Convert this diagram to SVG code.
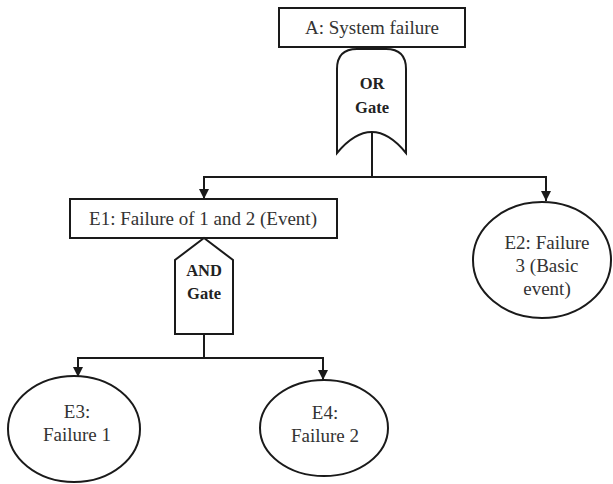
<svg xmlns="http://www.w3.org/2000/svg" width="613" height="484" viewBox="0 0 613 484">
  <style>
    .shape { fill: #ffffff; stroke: #1a1a1a; stroke-width: 2; }
    .wire { fill: none; stroke: #1a1a1a; stroke-width: 2; }
    .label { font-family: "Liberation Serif", "Times New Roman", serif; font-size: 19px; fill: #333333; text-anchor: middle; }
    .gate { font-family: "Liberation Serif", "Times New Roman", serif; font-size: 16.5px; font-weight: bold; fill: #222222; text-anchor: middle; }
  </style>
  <defs>
    <marker id="arrow" viewBox="0 0 10 10" refX="10" refY="5" markerWidth="5" markerHeight="5" orient="auto" markerUnits="strokeWidth">
      <path d="M0,0 L10,5 L0,10 Z" fill="#1a1a1a"/>
    </marker>
  </defs>
  <rect width="613" height="484" fill="#ffffff"/>

  <!-- connectors -->
  <g id="connectors">
    <path class="wire" d="M372,132 L372,177"/>
    <path class="wire" d="M204,177 L546,177"/>
    <path class="wire" d="M204,176 L204,199" marker-end="url(#arrow)"/>
    <path class="wire" d="M546,176 L546,201" marker-end="url(#arrow)"/>
    <path class="wire" d="M204,334 L204,358"/>
    <path class="wire" d="M78,358 L324,358"/>
    <path class="wire" d="M78,357 L78,377" marker-end="url(#arrow)"/>
    <path class="wire" d="M323,357 L323,380" marker-end="url(#arrow)"/>
  </g>

  <!-- top event -->
  <g id="node-a">
    <rect class="shape" x="279" y="8" width="186" height="39"/>
    <text class="label" x="372" y="34">A: System failure</text>
  </g>

  <!-- OR gate -->
  <g id="gate-or">
    <path class="shape" d="M337,153 L337,69 Q337,49 357,49 L386,49 Q406,49 406,69 L406,153 Q372,111 337,153 Z"/>
    <text class="gate" x="372" y="89">OR</text>
    <text class="gate" x="372" y="113">Gate</text>
  </g>

  <!-- intermediate event -->
  <g id="node-e1">
    <rect class="shape" x="70" y="199" width="267" height="39"/>
    <text class="label" x="203" y="225">E1: Failure of 1 and 2 (Event)</text>
  </g>

  <!-- AND gate -->
  <g id="gate-and">
    <path class="shape" d="M175,334 L175,260 L204,238 L233,260 L233,334 Z"/>
    <text class="gate" x="204" y="276">AND</text>
    <text class="gate" x="204" y="299">Gate</text>
  </g>

  <!-- basic event E2 -->
  <g id="node-e2">
    <ellipse class="shape" cx="542" cy="260" rx="69" ry="58"/>
    <text class="label" x="547" y="249">E2: Failure</text>
    <text class="label" x="547" y="272">3 (Basic</text>
    <text class="label" x="547" y="295">event)</text>
  </g>

  <!-- basic event E3 -->
  <g id="node-e3">
    <ellipse class="shape" cx="74" cy="429" rx="66" ry="53"/>
    <text class="label" x="77" y="418">E3:</text>
    <text class="label" x="77" y="441">Failure 1</text>
  </g>

  <!-- basic event E4 -->
  <g id="node-e4">
    <ellipse class="shape" cx="324" cy="428" rx="64" ry="48"/>
    <text class="label" x="325" y="419">E4:</text>
    <text class="label" x="325" y="442">Failure 2</text>
  </g>
</svg>
